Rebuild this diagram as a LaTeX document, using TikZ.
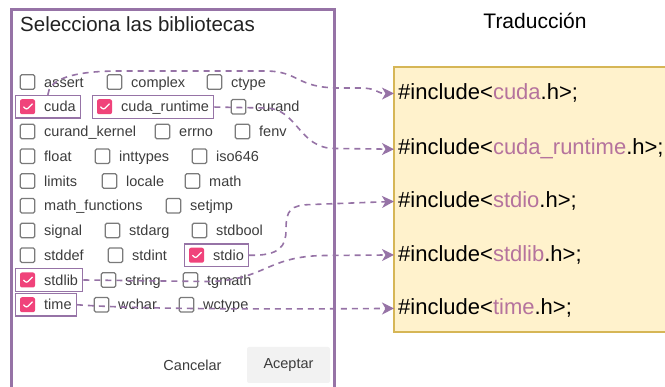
\documentclass[tikz,border=0pt]{standalone}
\usepackage{fontspec}
\setmainfont{Liberation Sans}
\usetikzlibrary{arrows.meta,fit}
\definecolor{linkpurple}{HTML}{9673A6}
\definecolor{libpink}{HTML}{B5739D}
\definecolor{tickpink}{HTML}{F0437B}
\definecolor{boxgrey}{HTML}{7A7A7A}
\definecolor{labelgrey}{HTML}{3C3C3C}
\definecolor{titlegrey}{HTML}{222222}
\definecolor{btngrey}{HTML}{F2F2F2}
\definecolor{notefill}{HTML}{FFF2CC}
\definecolor{notestroke}{HTML}{D6B656}

\begin{document}
\begin{tikzpicture}[x=1pt,y=-1pt,
    box/.style={draw=boxgrey, line width=1.4pt, rounded corners=1.5pt, minimum size=14.5pt, inner sep=0pt},
    boxon/.style={fill=tickpink, rounded corners=2pt, minimum size=15pt, inner sep=0pt,
      path picture={\draw[white, line width=1.2pt] ([xshift=-4pt]path picture bounding box.center) -- ++(3pt,-3pt) -- ++(6pt,6pt);}},
    lbl/.style={anchor=base west, inner sep=0pt, text=labelgrey, font=\fontsize{14.5}{16}\selectfont},
    sel/.style={draw=linkpurple, line width=1.3pt, inner xsep=4.5pt, inner ysep=3.5pt},
    link/.style={draw=linkpurple, line width=1.6pt, dash pattern=on 6pt off 5pt,
      -{Stealth[length=12pt, width=12pt, inset=3.5pt]}},
    inc/.style={anchor=base west, inner xsep=4pt, inner ysep=0pt, font=\fontsize{22}{26}\selectfont}]
  \useasboundingbox (0,0) rectangle (665,387);
  % dialog frame (open at the bottom)
  \draw[linkpurple, line width=3pt] (11,387) |- (334,10) -- (334,387);
  \node[anchor=base west, inner sep=0pt, text=titlegrey, font=\fontsize{20.5}{24}\selectfont] (title) at (20,31.5) {Selecciona las bibliotecas};
  % unchecked libraries
  \foreach \nm/\cx/\cy/\tx in {assert/27.5/82/assert, complex/114.5/82/complex, ctype/214.5/82/ctype,
      curand/238.5/106.75/curand,
      kernel/27.5/131.5/curand\_kernel, errno/162.5/131.5/errno, fenv/242.5/131.5/fenv,
      float/27.5/156.25/float, inttypes/102.5/156.25/inttypes, iso/199.5/156.25/iso646,
      limits/27.5/181/limits, locale/109.5/181/locale, math/192.5/181/math,
      mathfn/27.5/205.75/math\_functions, setjmp/173.5/205.75/setjmp,
      signal/27.5/230.5/signal, stdarg/112.5/230.5/stdarg, stdbool/199.5/230.5/stdbool,
      stddef/27.5/255.25/stddef, stdint/115.5/255.25/stdint,
      string/108.5/280/string, tgmath/190.5/280/tgmath,
      wchar/101.5/304.75/wchar, wctype/186.5/304.75/wctype}
  {
    \node[box] (b-\nm) at (\cx,\cy) {};
    \node[lbl] (l-\nm) at (\cx+16.5,\cy+5.2) {\tx};
  }
  % checked libraries with their selection frame
  \foreach \nm/\cx/\cy/\tx in {cuda/27.5/106.75/cuda, rt/104.5/106.75/cuda\_runtime,
      stdio/196.5/255.25/stdio, stdlib/27.5/280/stdlib, time/27.5/304.75/time}
  {
    \node[boxon] (b-\nm) at (\cx,\cy) {};
    \node[lbl] (l-\nm) at (\cx+16.5,\cy+5.2) {\tx};
    \node[sel, fit=(b-\nm)(l-\nm)] (s-\nm) {};
  }
  % buttons
  \node[text=labelgrey, font=\fontsize{14.5}{16}\selectfont] (cancel) at (192.5,365) {Cancelar};
  \node[fill=btngrey, rounded corners=2pt, minimum width=83pt, minimum height=36pt,
    text=labelgrey, font=\fontsize{14.5}{16}\selectfont] (accept) at (288.5,365) {Aceptar};
  % translation
  \node[anchor=base, inner sep=0pt, font=\fontsize{21}{24}\selectfont] (trad) at (535,29) {Traducción};
  \fill[notefill] (394,67) rectangle (666,332);
  \draw[notestroke, line width=1.5pt] (666,67) -- (394,67) -- (394,332) -- (666,332);
  \foreach \k/\lib/\by in {1/cuda/100, 2/cuda\_runtime/155, 3/stdio/208, 4/stdlib/261.5, 5/time/315}
    \node[inc] (c\k) at (394,\by) {\#include<\textcolor{libpink}{\lib}.h>;};
  % links
  \draw[link] (s-cuda.north) .. controls (49,80) and (70,71) .. (120,71) -- (265,71)
    .. controls (300,71) and (295,88) .. (340,88) -- (360,88) .. controls (378,88) and (376,93.6) .. (c1.west);
  \draw[link] (s-rt.east) -- (265,108) .. controls (298,108) and (298,148.5) .. (335,148.5) -- (c2.west);
  \draw[link] (s-stdio.east) .. controls (280,256) and (286,246) .. (286,230)
    .. controls (286,210) and (290,205) .. (312,204.5) -- (c3.west);
  \draw[link] (s-stdlib.east) -- (205,281.5) .. controls (265,281.5) and (265,256) .. (325,255.5) -- (c4.west);
  \draw[link] (s-time.east) .. controls (150,310) and (300,309) .. (c5.west);
\end{tikzpicture}
\end{document}
